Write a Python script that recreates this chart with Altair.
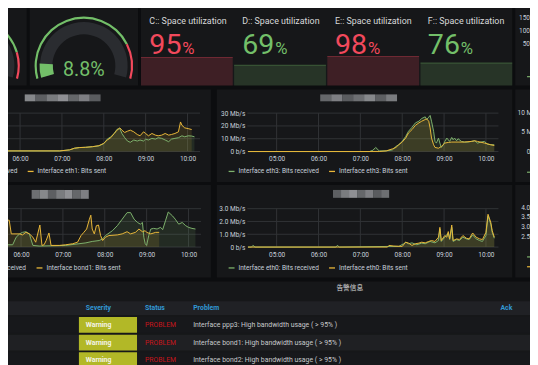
import math
import altair as alt
import pandas as pd

# ====================== data ======================
LEFT_GAUGE_THRESHOLD = 85
CPU_VALUE = 8.8
CPU_THRESHOLD = 80

DRIVES = ["C:", "D:", "E:", "F:"]
DRIVE_TITLES = ["C:: Space utilization", "D:: Space utilization",
                "E:: Space utilization", "F:: Space utilization"]
DRIVE_USED = [95, 69, 98, 76]
DRIVE_CRIT_LEVEL = 90

TIME_START, TIME_END = "04:18", "10:18"
HOUR_TICKS = [5, 6, 7, 8, 9, 10]

ETH1_RECEIVED = [("04:19", 0.5), ("06:57", 0.5), ("07:11", 1.3), ("07:18", 2.6), ("07:25", 3.1),
                 ("07:34", 3.3), ("07:44", 3.8), ("07:53", 4.4), ("08:00", 6.2), ("08:05", 9.7),
                 ("08:10", 11.5), ("08:15", 14.1), ("08:19", 17.4), ("08:23", 17.9), ("08:26", 14.1),
                 ("08:30", 10.8), ("08:34", 8.2), ("08:38", 7.2), ("08:43", 9.0), ("08:48", 8.2),
                 ("08:52", 9.0), ("08:57", 8.2), ("09:00", 9.7), ("09:04", 9.0), ("09:09", 10.3),
                 ("09:14", 9.7), ("09:18", 10.8), ("09:23", 10.3), ("09:28", 9.0), ("09:33", 7.7),
                 ("09:37", 9.7), ("09:42", 10.3), ("09:47", 10.8), ("09:52", 12.3), ("09:56", 11.5),
                 ("10:01", 12.3), ("10:06", 12.1), ("10:10", 11.5)]
ETH1_SENT = [("04:19", 0.5), ("06:57", 0.5), ("07:11", 1.3), ("07:18", 2.6), ("07:25", 3.1),
             ("07:34", 3.3), ("07:44", 3.8), ("07:53", 4.6), ("08:00", 6.4), ("08:05", 9.0),
             ("08:10", 10.8), ("08:15", 14.1), ("08:19", 16.7), ("08:23", 18.5), ("08:26", 16.7),
             ("08:30", 14.9), ("08:34", 15.9), ("08:38", 16.7), ("08:43", 15.4), ("08:48", 13.3),
             ("08:52", 12.3), ("08:57", 15.4), ("09:00", 14.1), ("09:04", 12.3), ("09:09", 14.1),
             ("09:14", 12.8), ("09:18", 12.3), ("09:23", 12.8), ("09:28", 14.1), ("09:33", 12.8),
             ("09:37", 13.3), ("09:42", 14.1), ("09:47", 15.4), ("09:50", 23.1), ("09:52", 20.5),
             ("09:56", 18.5), ("10:01", 17.9), ("10:06", 17.2)]

ETH3_RECEIVED = [("04:19", 0), ("07:13", 0), ("07:18", 1.0), ("07:22", 3.2), ("07:27", 0.5),
                 ("07:37", 0.5), ("07:46", 1.3), ("07:51", 4.0), ("07:55", 5.3), ("08:00", 7.9),
                 ("08:05", 11.8), ("08:09", 15.8), ("08:14", 18.9), ("08:19", 22.4), ("08:24", 23.7),
                 ("08:28", 25.8), ("08:33", 27.1), ("08:35", 25.0), ("08:38", 26.8), ("08:40", 28.2),
                 ("08:42", 23.7), ("08:45", 15.8), ("08:47", 7.9), ("08:49", 6.6), ("08:52", 10.5),
                 ("08:54", 6.6), ("08:56", 3.2), ("08:59", 5.3), ("09:01", 7.9), ("09:04", 10.5),
                 ("09:06", 9.2), ("09:08", 7.9), ("09:11", 11.0), ("09:13", 9.2), ("09:15", 10.5),
                 ("09:18", 8.4), ("09:20", 10.0), ("09:25", 7.9), ("09:29", 7.4), ("09:34", 7.4),
                 ("09:39", 7.9), ("09:44", 8.4), ("09:48", 6.6), ("09:53", 7.4), ("09:58", 7.9),
                 ("10:02", 5.8), ("10:07", 5.3), ("10:12", 5.3)]
ETH3_SENT = [("04:19", 0), ("07:27", 0), ("07:37", 0.5), ("07:46", 2.1), ("07:51", 3.2),
             ("07:55", 5.3), ("08:00", 7.4), ("08:05", 10.5), ("08:09", 14.5), ("08:14", 17.1),
             ("08:19", 20.5), ("08:24", 22.4), ("08:28", 23.7), ("08:33", 25.0), ("08:35", 25.5),
             ("08:38", 23.7), ("08:40", 18.4), ("08:42", 10.5), ("08:45", 5.3), ("08:47", 3.2),
             ("08:52", 2.6), ("08:56", 3.9), ("09:01", 6.6), ("09:06", 7.1), ("09:11", 7.4),
             ("09:20", 7.4), ("09:29", 7.4), ("09:39", 7.9), ("09:44", 8.4), ("09:48", 7.9),
             ("09:58", 6.6), ("10:07", 5.3), ("10:12", 4.7)]
ETH3_Y_TICKS = [0, 10, 20, 30]

BOND1_RECEIVED = [("04:19", 0.18), ("05:48", 0.18), ("05:53", 0.77), ("05:58", 1.03), ("06:02", 1.15),
                  ("06:07", 1.2), ("06:12", 1.03), ("06:14", 0.64), ("06:17", 0.13), ("06:26", 0.08),
                  ("07:04", 0.13), ("07:23", 0.26), ("07:33", 0.33), ("07:42", 0.44), ("07:52", 0.51),
                  ("07:57", 0.64), ("08:01", 0.9), ("08:11", 1.28), ("08:18", 1.67), ("08:25", 2.18),
                  ("08:32", 2.69), ("08:37", 2.69), ("08:42", 2.18), ("08:47", 1.92), ("08:51", 1.79),
                  ("08:54", 1.92), ("08:56", 0.77), ("08:58", 0.26), ("09:00", 0.13), ("09:03", 0.9),
                  ("09:06", 1.41), ("09:10", 1.46), ("09:15", 1.41), ("09:20", 1.54), ("09:23", 1.36),
                  ("09:27", 2.05), ("09:31", 2.74), ("09:37", 2.44), ("09:41", 2.18), ("09:46", 1.79),
                  ("09:51", 1.92), ("09:56", 1.67), ("10:00", 1.54), ("10:05", 1.46), ("10:10", 1.41)]
BOND1_SENT = [("04:19", 0.9), ("05:29", 0.9), ("05:33", 2.05), ("05:34", 2.1), ("05:43", 2.1),
              ("05:46", 1.03), ("05:58", 1.03), ("06:02", 0.95), ("06:07", 1.15), ("06:12", 1.03),
              ("06:17", 0.77), ("06:21", 0.38), ("06:27", 1.72), ("06:30", 0.13), ("06:33", 0.18),
              ("06:36", 0.51), ("06:40", 1.1), ("06:43", 0.13), ("06:55", 0.13), ("07:04", 0.18),
              ("07:14", 0.26), ("07:21", 0.38), ("07:26", 0.9), ("07:30", 1.15), ("07:34", 1.41),
              ("07:38", 2.18), ("07:40", 2.49), ("07:42", 1.41), ("07:45", 1.03), ("07:48", 1.67),
              ("07:51", 1.72), ("07:54", 0.9), ("07:57", 0.51), ("08:01", 0.77), ("08:06", 0.9),
              ("08:18", 0.95), ("08:25", 1.03), ("08:32", 1.2), ("08:37", 1.03), ("08:44", 1.15),
              ("08:49", 1.41), ("08:54", 1.2), ("08:58", 1.28), ("09:00", 1.15), ("09:06", 1.03),
              ("09:13", 1.15), ("09:18", 1.15)]

ETH0_RECEIVED = [("04:19", 0), ("04:24", 0), ("04:26", 0.13), ("04:29", 0), ("06:25", 0),
                 ("06:27", 0.13), ("06:30", 0), ("07:41", 0.05), ("07:55", 0.05), ("08:02", 0.26),
                 ("08:05", 0.38), ("08:09", 0.26), ("08:14", 0.33), ("08:21", 0.18), ("08:28", 0.31),
                 ("08:33", 0.26), ("08:40", 0.44), ("08:47", 0.33), ("08:52", 0.51), ("08:54", 1.41),
                 ("08:56", 0.44), ("09:01", 0.77), ("09:06", 1.1), ("09:08", 0.59), ("09:11", 1.54),
                 ("09:13", 0.44), ("09:18", 0.59), ("09:22", 0.51), ("09:27", 0.77), ("09:32", 0.64),
                 ("09:36", 0.59), ("09:41", 0.95), ("09:46", 0.64), ("09:51", 0.51), ("09:55", 0.44),
                 ("10:00", 0.9), ("10:03", 2.44), ("10:07", 1.79), ("10:09", 1.15), ("10:12", 0.69)]
ETH0_SENT = [("04:19", 0), ("07:39", 0), ("07:41", 0.13), ("07:48", 0.08), ("08:00", 0.05),
             ("08:05", 0.38), ("08:09", 0.31), ("08:14", 0.13), ("08:19", 0.26), ("08:24", 0.31),
             ("08:28", 0.38), ("08:33", 0.33), ("08:38", 0.44), ("08:42", 0.51), ("08:47", 0.44),
             ("08:52", 0.77), ("08:54", 1.54), ("08:56", 0.51), ("09:01", 0.9), ("09:04", 0.77),
             ("09:06", 1.21), ("09:08", 0.64), ("09:11", 1.72), ("09:13", 0.51), ("09:18", 0.64),
             ("09:22", 0.59), ("09:27", 0.9), ("09:32", 0.69), ("09:36", 0.64), ("09:41", 1.1),
             ("09:46", 0.77), ("09:51", 0.64), ("09:55", 0.59), ("10:00", 1.15), ("10:03", 2.56),
             ("10:07", 1.92), ("10:09", 1.28), ("10:12", 0.77)]
ETH0_Y_TICKS = [0, 1, 2, 3]

RIGHT1_TICKS = [150, 100, 50]
RIGHT1_LABELS = ["150", "100", "50"]
RIGHT2_TICKS = [10, 5, 0]
RIGHT2_LABELS = ["10 Mb/s", "5 Mb/s", "0 b/s"]
RIGHT3_TICKS = [4.0, 3.5, 3.0, 2.5]
RIGHT3_LABELS = ["4.0 Mb/s", "3.5 Mb/s", "3.0 Mb/s", "2.5 Mb/s"]

TABLE_TITLE = "告警信息"
TABLE_HEADERS = ["Severity", "Status", "Problem", "Ack"]
TABLE_SEVERITY = ["Warning", "Warning", "Warning"]
TABLE_STATUS = ["PROBLEM", "PROBLEM", "PROBLEM"]
TABLE_PROBLEM = ["Interface ppp3: High bandwidth usage ( > 95% )",
                 "Interface bond1: High bandwidth usage ( > 95% )",
                 "Interface bond2: High bandwidth usage ( > 95% )"]

# ====================== layout / style ======================
W, H = 530, 357
OX, OY = 8, 8          # page margin: reference pixel (x, y) -> chart (x-8, y-8)


def cx(v):
    return v - OX


def cy(v):
    return v - OY


FONT = "Roboto"
BG = "#0c0d0f"
PANEL = "#161719"
GRID = "#313336"
AXIS_TXT = "#c7d0d9"
TITLE_TXT = "#d8d9da"
GREEN = "#7eb26d"
YELLOW = "#eab839"
OK = "#73bf69"
CRIT = "#f2495c"
TRACK = "#2a2c30"

PANELS = [(0, 27, 0, 84), (30, 140, 0, 84), (143, 520, 0, 84), (523, 540, 0, 84),
          (0, 214, 88, 182), (220, 520, 88, 182), (523, 540, 88, 182),
          (0, 214, 185, 279), (220, 520, 185, 279), (523, 540, 185, 279),
          (0, 540, 283, 380)]
BLURS = [(25, 102, 93, 100), (325, 403, 93, 100), (32, 90, 190, 199), (338, 395, 190, 198)]
BLUR_SHADES = ["#7d7f83", "#9a9ca0", "#6a6c70", "#8c8e92", "#a4a6aa", "#737579", "#909296", "#66686c"]

ONE = alt.InlineData(values=[{"k": 0}])
layers = []


def box(x0, x1, y0, y1, color, opacity=1.0):
    return alt.Chart(ONE).mark_rect(color=color, opacity=opacity).encode(
        x=alt.value(cx(x0)), x2=alt.value(cx(x1)), y=alt.value(cy(y0)), y2=alt.value(cy(y1)))


def label(text, x, y, size, color, align="left", weight="normal", font=FONT, baseline="middle"):
    return alt.Chart(ONE).mark_text(text=text, fontSize=size, color=color, align=align,
                                    baseline=baseline, font=font, fontWeight=weight).encode(
        x=alt.value(cx(x)), y=alt.value(cy(y)))


def hrs(s):
    h, m = s.split(":")
    return int(h) + int(m) / 60.0


# ---- panels ----
panel_df = pd.DataFrame([{"x0": cx(a), "x1": cx(b), "y0": cy(c), "y1": cy(d)} for a, b, c, d in PANELS])
layers.append(alt.Chart(panel_df).mark_rect(color=PANEL).encode(
    x=alt.X("x0:Q", scale=None), x2="x1:Q", y=alt.Y("y0:Q", scale=None), y2="y1:Q"))

# blurred (pixelated) panel titles
blur_rows = []
for (a, b, c, d) in BLURS:
    n = 7
    step = (b - a) / n
    for i in range(n):
        blur_rows.append({"x0": cx(a + i * step), "x1": cx(a + (i + 1) * step), "y0": cy(c), "y1": cy(d),
                          "shade": BLUR_SHADES[(i + int(a)) % len(BLUR_SHADES)]})
layers.append(alt.Chart(pd.DataFrame(blur_rows)).mark_rect(opacity=0.85).encode(
    x=alt.X("x0:Q", scale=None), x2="x1:Q", y=alt.Y("y0:Q", scale=None), y2="y1:Q",
    color=alt.Color("shade:N", scale=None)))

# ---- gauges ----
TH_LO = 2 * math.pi - 1.84
TH_HI = 2 * math.pi + 1.84


def gauge(center_x, center_y, value, threshold):
    ths = alt.Scale(domain=[0, 100], range=[TH_LO, TH_HI])
    out = []
    out.append(alt.Chart(alt.InlineData(values=[{"a": 0, "b": 100}])).mark_arc(
        radius=44.5, radius2=32, color=TRACK).encode(
        theta=alt.Theta("a:Q", scale=ths), theta2="b:Q",
        x=alt.value(cx(center_x)), y=alt.value(cy(center_y))))
    out.append(alt.Chart(alt.InlineData(values=[{"a": 0, "b": threshold, "c": "ok"},
                                                {"a": threshold, "b": 100, "c": "crit"}])).mark_arc(
        radius=50, radius2=47.8).encode(
        theta=alt.Theta("a:Q", scale=ths), theta2="b:Q",
        color=alt.Color("c:N", scale=alt.Scale(domain=["ok", "crit"], range=[OK, CRIT]), legend=None),
        x=alt.value(cx(center_x)), y=alt.value(cy(center_y))))
    if value is not None:
        out.append(alt.Chart(alt.InlineData(values=[{"a": 0, "b": value}])).mark_arc(
            radius=45, radius2=31.5, color=OK).encode(
            theta=alt.Theta("a:Q", scale=ths), theta2="b:Q",
            x=alt.value(cx(center_x)), y=alt.value(cy(center_y))))
        out.append(alt.Chart(alt.InlineData(values=[{"v": value}])).transform_calculate(
            lab="format(datum.v, '.1f') + '%'").mark_text(
            fontSize=20, color=OK, font=FONT, align="center", baseline="alphabetic").encode(
            text="lab:N", x=alt.value(cx(center_x)), y=alt.value(cy(74))))
    return out


layers += gauge(-30, 64, None, LEFT_GAUGE_THRESHOLD)
layers += gauge(85, 64, CPU_VALUE, CPU_THRESHOLD)

# ---- disk stat panels ----
stat_df = pd.DataFrame({"drive": DRIVES, "title": DRIVE_TITLES, "used": DRIVE_USED})
STATE = f"datum.used >= {DRIVE_CRIT_LEVEL} ? 'crit' : 'ok'"
bs = alt.Scale(domain=DRIVES, range=[cx(143), cx(520)], paddingInner=0.015, paddingOuter=0)
us = alt.Scale(domain=[0, 100], range=[cy(84), cy(54)], nice=False)
state_col = alt.Color("state:N", scale=alt.Scale(domain=["ok", "crit"], range=[OK, CRIT]), legend=None)
BW = (520 - 143) / (4 - 0.015) * (1 - 0.015)
HALF = BW / 2.0

base = alt.Chart(stat_df).transform_calculate(state=STATE)
layers.append(base.mark_bar(opacity=0.18).encode(
    x=alt.X("drive:N", scale=bs, axis=None), y=alt.Y("used:Q", scale=us, axis=None), color=state_col))
layers.append(base.mark_tick(thickness=1, size=BW, opacity=0.35).encode(
    x=alt.X("drive:N", scale=bs, axis=None), y=alt.Y("used:Q", scale=us, axis=None), color=state_col))
layers.append(base.mark_text(align="left", baseline="alphabetic", dx=8 - HALF, fontSize=9,
                             font=FONT, color=TITLE_TXT).encode(
    x=alt.X("drive:N", scale=bs, axis=None), y=alt.value(cy(21.5)), text="title:N"))
layers.append(base.mark_text(align="left", baseline="alphabetic", dx=8 - HALF, fontSize=29,
                             font=FONT).encode(
    x=alt.X("drive:N", scale=bs, axis=None), y=alt.value(cy(52)),
    text="used:N", color=state_col))
layers.append(base.mark_text(align="left", baseline="alphabetic", dx=41.5 - HALF, fontSize=17,
                             font=FONT, text="%").encode(
    x=alt.X("drive:N", scale=bs, axis=None), y=alt.value(cy(52)), color=state_col))

# ---- time series graphs ----
T0, T1 = hrs(TIME_START), hrs(TIME_END)
XLAB = "(datum.value < 10 ? '0' : '') + datum.value + ':00'"


def graph(recv, sent, iface, x_left, x_right, y_bottom, y_top, ydom, yticks, ylab_expr,
          leg_x, leg_y, show_y):
    names = [f"Interface {iface}: Bits received", f"Interface {iface}: Bits sent"]
    recs = []
    for name, series in zip(names, [recv, sent]):
        for t, v in series:
            recs.append({"t": hrs(t), "v": v, "s": name})
    df = pd.DataFrame(recs)
    xs = alt.Scale(domain=[T0, T1], range=[cx(x_left), cx(x_right)], nice=False, zero=False)
    ys = alt.Scale(domain=ydom, range=[cy(y_bottom), cy(y_top)], nice=False)
    cs = alt.Scale(domain=names, range=[GREEN, YELLOW])
    nv = len(HOUR_TICKS)
    nh = len(yticks)
    vgrid = alt.Chart(pd.DataFrame({"t": HOUR_TICKS, "lo": [ydom[0]] * nv, "hi": [ydom[1]] * nv})).mark_rule(
        color=GRID, strokeWidth=1).encode(
        x=alt.X("t:Q", scale=xs, axis=None), y=alt.Y("lo:Q", scale=ys, axis=None), y2="hi:Q")
    hgrid = alt.Chart(pd.DataFrame({"v": yticks, "lo": [T0] * nh, "hi": [T1] * nh})).mark_rule(
        color=GRID, strokeWidth=1).encode(
        y=alt.Y("v:Q", scale=ys, axis=None), x=alt.X("lo:Q", scale=xs, axis=None), x2="hi:Q")
    area = alt.Chart(df).mark_area(opacity=0.13, interpolate="linear").encode(
        x=alt.X("t:Q", scale=xs, axis=None), y=alt.Y("v:Q", scale=ys, stack=None, axis=None),
        color=alt.Color("s:N", scale=cs, legend=None))
    xaxis = alt.Axis(values=HOUR_TICKS, labelExpr=XLAB, orient="bottom", offset=cy(y_bottom) - H,
                     grid=False, domain=False, ticks=False, tickSize=0, labelPadding=4.5,
                     labelColor=AXIS_TXT, labelFont=FONT, labelFontSize=6.6, title=None,
                     labelFlush=False, labelOverlap=False, zindex=2)
    if show_y:
        yaxis = alt.Axis(values=yticks, labelExpr=ylab_expr, orient="left", offset=-cx(x_left),
                         grid=False, domain=False, ticks=False, tickSize=0, labelPadding=2.5,
                         labelColor=AXIS_TXT, labelFont=FONT, labelFontSize=6.6, title=None,
                         labelFlush=False, labelOverlap=False, zindex=2)
    else:
        yaxis = None
    legend = alt.Legend(orient="none", legendX=cx(leg_x), legendY=cy(leg_y), direction="horizontal",
                        title=None, symbolType="stroke", symbolSize=36, symbolStrokeWidth=1.3,
                        labelFont=FONT, labelFontSize=6.6, labelColor=AXIS_TXT, labelOffset=3,
                        columnPadding=7, padding=0, offset=0)
    line = alt.Chart(df).mark_line(strokeWidth=1, interpolate="linear").encode(
        x=alt.X("t:Q", scale=xs, axis=xaxis), y=alt.Y("v:Q", scale=ys, axis=yaxis),
        color=alt.Color("s:N", scale=cs, legend=legend))
    return [vgrid, hgrid, area, line]


YLAB_MB = "datum.value == 0 ? '0 b/s' : datum.value + ' Mb/s'"
YLAB_MB1 = "datum.value == 0 ? '0 b/s' : format(datum.value, '.1f') + ' Mb/s'"

layers += graph(ETH1_RECEIVED, ETH1_SENT, "eth1", -52, 203, 151, 112, [0, 30], ETH3_Y_TICKS, YLAB_MB,
                -75, 167, False)
layers += graph(ETH3_RECEIVED, ETH3_SENT, "eth3", 251, 506, 151, 112, [0, 30], ETH3_Y_TICKS, YLAB_MB,
                231, 167, True)
layers += graph(BOND1_RECEIVED, BOND1_SENT, "bond1", -51, 204, 248, 209, [0, 3], ETH0_Y_TICKS, YLAB_MB1,
                -72, 265, False)
layers += graph(ETH0_RECEIVED, ETH0_SENT, "eth0", 251, 506, 248, 209, [0, 3], ETH0_Y_TICKS, YLAB_MB1,
                231, 265, True)


# ---- partially visible panels on the right edge ----
def side_labels(ticks, labels, ydom, yb, yt, xpos, align):
    df = pd.DataFrame({"v": ticks, "lab": labels})
    return alt.Chart(df).mark_text(align=align, baseline="middle", fontSize=6.6, color=AXIS_TXT,
                                   font=FONT).encode(
        y=alt.Y("v:Q", scale=alt.Scale(domain=ydom, range=[cy(yb), cy(yt)], nice=False), axis=None),
        x=alt.value(cx(xpos)), text="lab:N")


layers.append(side_labels(RIGHT1_TICKS, RIGHT1_LABELS, [0, 150], 55.5, 15, 538, "right"))
layers.append(side_labels(RIGHT2_TICKS, RIGHT2_LABELS, [0, 10], 151, 112, 550, "right"))
layers.append(side_labels(RIGHT3_TICKS, RIGHT3_LABELS, [2.5, 4.0], 238, 208, 529, "left"))


def dash(y, color):
    return alt.Chart(ONE).mark_rule(color=color, strokeWidth=1.2).encode(
        x=alt.value(cx(535)), x2=alt.value(cx(540)), y=alt.value(cy(y)))


layers += [dash(75, GREEN), dash(172, GREEN), dash(258, GREEN), dash(268, YELLOW)]

# ---- alerts table ----
layers.append(label(TABLE_TITLE, 355, 290, 6.8, TITLE_TXT, align="center", font="Noto Sans CJK SC"))
layers.append(box(0, 540, 303, 317, "#202125"))
HEADER_X = [87, 147, 196, 508]
for htxt, hx in zip(TABLE_HEADERS, HEADER_X):
    layers.append(label(htxt, hx, 310, 7.0, "#3299d6", weight="bold"))

tab_df = pd.DataFrame({"r": list(range(len(TABLE_PROBLEM))), "sev": TABLE_SEVERITY,
                       "st": TABLE_STATUS, "pr": TABLE_PROBLEM})
rs = alt.Scale(domain=list(range(len(TABLE_PROBLEM))), range=[cy(318), cy(372)],
               paddingInner=0.1, paddingOuter=0.05)
tab = alt.Chart(tab_df).transform_calculate(p="datum.r % 2 == 0 ? 'a' : 'b'")
layers.append(tab.mark_rect().encode(
    y=alt.Y("r:O", scale=rs, axis=None), x=alt.value(0), x2=alt.value(W),
    color=alt.Color("p:N", scale=alt.Scale(domain=["a", "b"], range=["#17181b", "#1f2023"]), legend=None)))
layers.append(tab.mark_rect(color="#b2b827").encode(
    y=alt.Y("r:O", scale=rs, axis=None), x=alt.value(cx(80)), x2=alt.value(cx(139))))
layers.append(tab.mark_text(align="left", baseline="middle", fontSize=7.0, font=FONT,
                            fontWeight="bold", color="#f4f4e8").encode(
    y=alt.Y("r:O", scale=rs, axis=None), x=alt.value(cx(87)), text="sev:N"))
layers.append(tab.mark_text(align="left", baseline="middle", fontSize=7.0, font=FONT,
                            color="#c4161c").encode(
    y=alt.Y("r:O", scale=rs, axis=None), x=alt.value(cx(147)), text="st:N"))
layers.append(tab.mark_text(align="left", baseline="middle", fontSize=7.0, font=FONT,
                            color="#c7c9cc").encode(
    y=alt.Y("r:O", scale=rs, axis=None), x=alt.value(cx(196)), text="pr:N"))

chart = alt.layer(*layers).resolve_scale(
    x="independent", y="independent", color="independent", theta="independent"
).properties(
    width=W, height=H, padding=0, background=BG,
    autosize=alt.AutoSizeParams(type="none"),
).configure_view(strokeWidth=0)

chart.save("out.html", embed_options={"renderer": "svg", "actions": False})
